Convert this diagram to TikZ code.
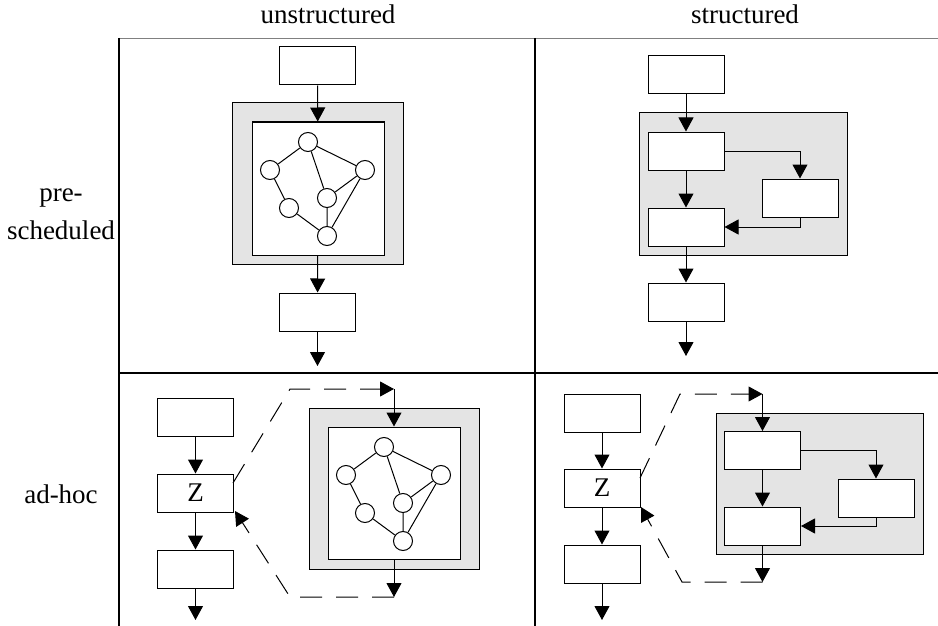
\documentclass[tikz,border=0pt]{standalone}
\usepackage{fontspec}
\setmainfont{Liberation Serif}
\usepackage{tikz}
\usetikzlibrary{arrows.meta,positioning,calc}
\definecolor{boxgray}{RGB}{228,228,228}
\newcommand{\netgraph}[1]{%
  \node[vtx] (#1a) at (56,20) {};
  \node[vtx] (#1b) at (18,48) {};
  \node[vtx] (#1c) at (113,48) {};
  \node[vtx] (#1d) at (75,76) {};
  \node[vtx] (#1e) at (37,86) {};
  \node[vtx] (#1f) at (75,114) {};
  \draw[line width=1pt] (#1a) -- (#1b) (#1a) -- (#1c) (#1a) -- (#1d) (#1b) -- (#1e)
        (#1e) -- (#1f) (#1d) -- (#1f) (#1d) -- (#1c) (#1c) -- (#1f);
}

\begin{document}
\begin{tikzpicture}[
  x=1pt, y=-1pt,
  >={Triangle[width=15pt,length=14pt]},
  every node/.style={font=\fontsize{27}{38}\selectfont},
  blk/.style={draw, fill=white, line width=1pt, minimum width=76pt, minimum height=38pt, inner sep=0pt},
  grp/.style={draw, fill=boxgray, line width=1pt, inner sep=0pt},
  vtx/.style={draw, circle, fill=white, line width=1pt, minimum size=19pt, inner sep=0pt},
  flow/.style={->, line width=1pt},
  jump/.style={->, line width=1pt, dash pattern=on 22pt off 14pt}
]
\useasboundingbox (0,0) rectangle (938,626);

% grid and labels
\draw[gray, line width=0.8pt] (119,38) -- (938,38);
\draw[line width=1.6pt] (119,373) -- (938,373);
\draw[line width=1.5pt] (119,38) -- (119,626);
\draw[line width=1.8pt] (535,38) -- (535,626);
\node[anchor=base] (ColU) at (328,24) {unstructured};
\node[anchor=base] (ColS) at (745,24) {structured};
\node[align=center] (RowP) at (61,214) {pre-\\scheduled};
\node[anchor=base] (RowA) at (61,503) {ad-hoc};

% pre-scheduled, unstructured
\node[blk] (UTop) at (317.5,66) {};
\node[grp, minimum width=171pt, minimum height=161pt] (UGrp) at (317.5,183.5) {};
\node[draw, fill=white, line width=1pt, minimum width=132pt, minimum height=133pt, inner sep=0pt] (UIn) at (318,188.5) {};
\begin{scope}[shift={(252,122)}]
  \netgraph{u}
\end{scope}
\node[blk] (UBot) at (317.5,312) {};
\coordinate (UEnd) at (317.5,366);
\draw[flow] (UTop) -- (UIn);
\draw[flow] (UIn) -- (UBot);
\draw[flow] (UBot) -- (UEnd);

% pre-scheduled, structured
\node[blk] (STop) at (686,75) {};
\node[grp, minimum width=208pt, minimum height=142pt] (SGrp) at (743,184) {};
\node[blk] (SOne) at (686,151) {};
\node[blk] (STwo) at (800,198) {};
\node[blk] (SThree) at (686,227) {};
\node[blk] (SBot) at (686,302) {};
\coordinate (SEnd) at (686,356);
\draw[flow] (STop) -- (SOne);
\draw[flow] (SOne) -- (SThree);
\draw[flow] (SOne.east) -| (STwo.north);
\draw[flow] (STwo.south) |- (SThree.east);
\draw[flow] (SThree) -- (SBot);
\draw[flow] (SBot) -- (SEnd);

% ad-hoc, unstructured
\node[blk] (AUTop) at (195.5,417) {};
\node[blk] (AUZ) at (195.5,493) {Z};
\node[blk] (AUBot) at (195.5,569) {};
\coordinate (AUEnd) at (195.5,620);
\draw[flow] (AUTop) -- (AUZ);
\draw[flow] (AUZ) -- (AUBot);
\draw[flow] (AUBot) -- (AUEnd);
\node[grp, minimum width=170pt, minimum height=161pt] (AUGrp) at (394,488.5) {};
\node[draw, fill=white, line width=1pt, minimum width=132pt, minimum height=132pt, inner sep=0pt] (AUIn) at (394,493) {};
\begin{scope}[shift={(328,427)}]
  \netgraph{l}
\end{scope}
\coordinate (AUOut) at (233,483);
\coordinate (AUCallA) at (290,389);
\coordinate (AUCallB) at (394,389);
\coordinate (AURetA) at (394,597);
\coordinate (AURetB) at (290,597);
\coordinate (AUBack) at (235,511);
\draw[jump] (AUOut) -- (AUCallA) -- (AUCallB);
\draw[flow] (AUCallB) -- (AUIn);
\draw[flow] (AUIn) -- (AURetA);
\draw[jump] (AURetA) -- (AURetB) -- (AUBack);

% ad-hoc, structured
\node[blk] (ASTop) at (602,413) {};
\node[blk] (ASZ) at (602,488) {Z};
\node[blk] (ASBot) at (602,564) {};
\coordinate (ASEnd) at (602,620);
\draw[flow] (ASTop) -- (ASZ);
\draw[flow] (ASZ) -- (ASBot);
\draw[flow] (ASBot) -- (ASEnd);
\node[grp, minimum width=207pt, minimum height=141pt] (ASGrp) at (819.5,483.5) {};
\node[blk] (ASOne) at (762.5,450.5) {};
\node[blk] (ASTwo) at (876,498) {};
\node[blk] (ASThree) at (762.5,526) {};
\draw[flow] (ASOne) -- (ASThree);
\draw[flow] (ASOne.east) -| (ASTwo.north);
\draw[flow] (ASTwo.south) |- (ASThree.east);
\coordinate (ASOut) at (640,478);
\coordinate (ASCallA) at (680,394);
\coordinate (ASCallB) at (762.5,394);
\coordinate (ASRetA) at (762.5,582);
\coordinate (ASRetB) at (682,582);
\coordinate (ASBack) at (641,507);
\draw[jump] (ASOut) -- (ASCallA) -- (ASCallB);
\draw[flow] (ASCallB) -- (ASOne);
\draw[flow] (ASThree) -- (ASRetA);
\draw[jump] (ASRetA) -- (ASRetB) -- (ASBack);

\end{tikzpicture}
\end{document}
